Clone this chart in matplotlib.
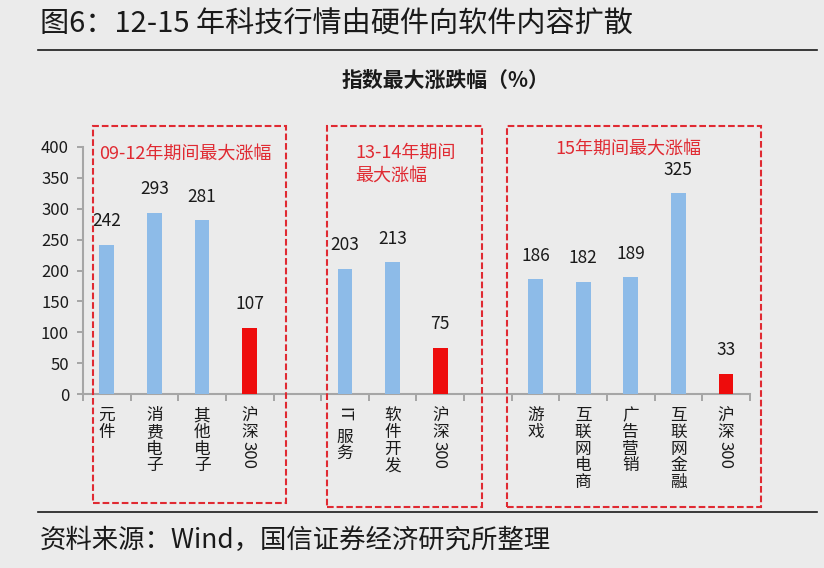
import numpy as np
import matplotlib
matplotlib.use('Agg')
import matplotlib.pyplot as plt
import matplotlib.transforms as mtransforms
from matplotlib.patches import Rectangle
from matplotlib.lines import Line2D

plt.rcParams['font.family'] = ['Noto Sans CJK SC', 'DejaVu Sans']
plt.rcParams['axes.unicode_minus'] = False

# 数据
categories = ['元件', '消费电子', '其他电子', '沪深300', '',
              'IT服务', '软件开发', '沪深300', '',
              '游戏', '互联网电商', '广告营销', '互联网金融', '沪深300']
values = [242, 293, 281, 107, np.nan,
          203, 213, 75, np.nan,
          186, 182, 189, 325, 33]
is_index = [False, False, False, True, False,
            False, False, True, False,
            False, False, False, False, True]
group_titles = ['09-12年期间最大涨幅', '13-14年期间\n最大涨幅', '15年期间最大涨幅']
y_ticks = [0, 50, 100, 150, 200, 250, 300, 350, 400]

bg = '#ebebeb'
blue = '#8dbbe8'
red = '#ee0c0c'
box_red = '#e02a32'

fig = plt.figure(figsize=(8.24, 5.68), dpi=100, facecolor=bg)
ax = fig.add_axes([0.1007, 0.3063, 0.8093, 0.4349])
ax.set_facecolor(bg)

x = np.arange(len(categories))
colors = [red if f else blue for f in is_index]
bars = ax.bar(x, values, width=0.31, color=colors, zorder=3)

for xi, v in zip(x, values):
    if np.isnan(v):
        continue
    ax.annotate(f'{v:.0f}', (xi, v), xytext=(0, 17), textcoords='offset points',
                ha='center', va='center', fontsize=12.5, color='#1a1a1a')

ax.set_xlim(-0.5, len(categories) - 0.5)
ax.set_ylim(0, 400)
ax.set_yticks(y_ticks)
ax.tick_params(axis='y', labelsize=12, colors='#999999', labelcolor='#1a1a1a',
               length=4, width=1.2, pad=6)
ax.set_xticks(np.arange(-0.5, len(categories), 1))
ax.set_xticklabels([])
ax.tick_params(axis='x', length=5, width=1.2, colors='#999999')
for s in ['top', 'right']:
    ax.spines[s].set_visible(False)
for s in ['left', 'bottom']:
    ax.spines[s].set_color('#a6a6a6')
    ax.spines[s].set_linewidth(1.5)

# 竖排的类别标签
base = mtransforms.blended_transform_factory(ax.transData, ax.transAxes)
fs = 12
for xi, lab in zip(x, categories):
    y_off = 9.5
    i = 0
    while i < len(lab):
        ch = lab[i]
        if ord(ch) < 128:
            j = i
            while j < len(lab) and ord(lab[j]) < 128:
                j += 1
            run = lab[i:j]
            if i > 0:
                y_off += 0.5
            tr = mtransforms.offset_copy(base, fig=fig, x=-1, y=-y_off, units='points')
            ax.text(xi, 0, run, transform=tr, rotation=-90, ha='center', va='top',
                    fontsize=fs, color='#1a1a1a')
            y_off += len(run) * 0.6 * fs + 1
            i = j
        else:
            tr = mtransforms.offset_copy(base, fig=fig, x=0, y=-y_off, units='points')
            ax.text(xi, 0, ch, transform=tr, ha='center', va='top',
                    fontsize=fs, color='#1a1a1a')
            y_off += fs
            i += 1

# 红色虚线框
boxes = [(-0.29, 3.76, -0.441), (4.62, 7.88, -0.457), (8.40, 13.73, -0.457)]
for x0, x1, yb in boxes:
    r = Rectangle((x0, yb), x1 - x0, 1.085 - yb, transform=base, fill=False,
                  edgecolor=box_red, linewidth=1.5, linestyle=(0, (3.2, 1.4)),
                  clip_on=False, zorder=4)
    ax.add_patch(r)

ax.text(-0.16, 390, group_titles[0], ha='left', va='center', fontsize=13, color=box_red)
ax.text(5.21, 372, group_titles[1], ha='left', va='center', fontsize=13,
        color=box_red, linespacing=1.35)
ax.text(10.94, 397, group_titles[2], ha='center', va='center', fontsize=13, color=box_red)

# 标题、副标题、来源
fig.text(40 / 824, 1 - 25 / 568, '图6：12-15 年科技行情由硬件向软件内容扩散',
         ha='left', va='center', fontsize=21, color='#1a1a1a')
fig.add_artist(Line2D([38 / 824, 817 / 824], [1 - 50 / 568, 1 - 50 / 568],
                      color='#1a1a1a', linewidth=1.2))
fig.text(446 / 824, 1 - 80 / 568, '指数最大涨跌幅（%）', ha='center', va='center',
         fontsize=15, fontweight='bold', color='#1a1a1a')
fig.add_artist(Line2D([38 / 824, 817 / 824], [1 - 512 / 568, 1 - 512 / 568],
                      color='#1a1a1a', linewidth=1.2))
fig.text(40 / 824, 1 - 540 / 568, '资料来源：Wind，国信证券经济研究所整理',
         ha='left', va='center', fontsize=19, color='#1a1a1a')

fig.savefig('out.png', dpi=100, facecolor=bg)
